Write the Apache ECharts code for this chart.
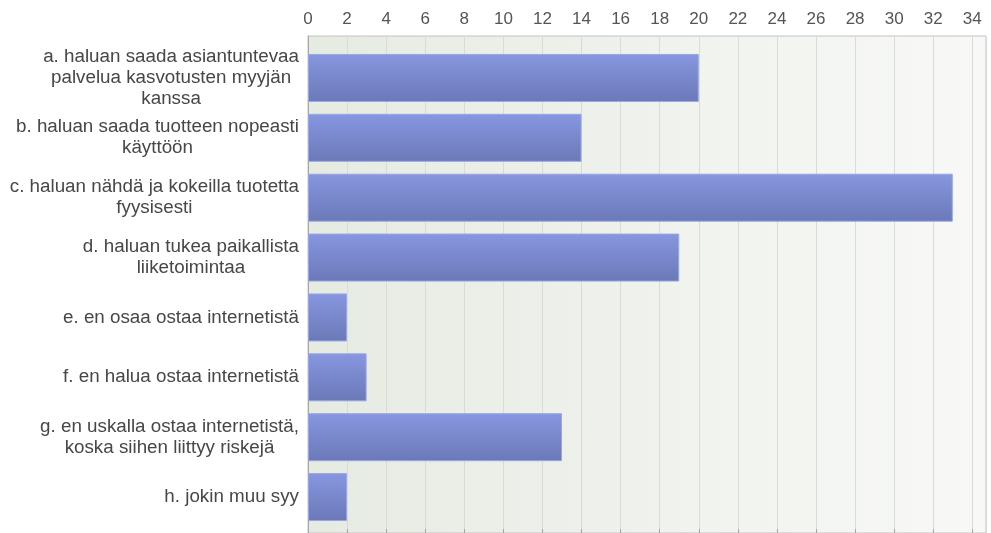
<!DOCTYPE html>
<html>
<head>
<meta charset="utf-8">
<script src="https://cdn.jsdelivr.net/npm/echarts@6/dist/echarts.min.js"></script>
<style>
  html, body { margin: 0; padding: 0; background: #ffffff; }
  #chart { width: 991px; height: 533px; }
</style>
</head>
<body>
<div id="chart"></div>
<script>
// Survey answers: reasons for buying locally instead of online
const categories = [
  'a. haluan saada asiantuntevaa\npalvelua kasvotusten myyjän\nkanssa',
  'b. haluan saada tuotteen nopeasti\nkäyttöön',
  'c. haluan nähdä ja kokeilla tuotetta\nfyysisesti',
  'd. haluan tukea paikallista\nliiketoimintaa',
  'e. en osaa ostaa internetistä',
  'f. en halua ostaa internetistä',
  'g. en uskalla ostaa internetistä,\nkoska siihen liittyy riskejä',
  'h. jokin muu syy'
];
const counts = [20, 14, 33, 19, 2, 3, 13, 2];
const axisMin = 0;
const axisMax = 34.7;
const axisStep = 2;

const FONT = '"Liberation Sans", Arial, Helvetica, sans-serif';
const chart = echarts.init(document.getElementById('chart'), null, { renderer: 'canvas' });

chart.setOption({
  animation: false,
  backgroundColor: '#ffffff',
  grid: [
    {
      // frame with shaded background, top scale and vertical guides
      left: 308, right: 5, top: 36, bottom: -6,
      show: true,
      borderColor: '#c2c2c2',
      borderWidth: 1,
      backgroundColor: {
        type: 'linear', x: 0, y: 0, x2: 1, y2: 0,
        colorStops: [
          { offset: 0, color: '#e6ebe2' },
          { offset: 1, color: '#f8f9f7' }
        ]
      }
    },
    {
      // bar rows
      left: 308, right: 5, top: 48, bottom: 6
    }
  ],
  xAxis: [
    {
      gridIndex: 0,
      type: 'value',
      position: 'top',
      min: axisMin,
      max: axisMax,
      interval: axisStep,
      axisLine: { show: true, lineStyle: { color: '#a3a3a3', width: 1 } },
      axisTick: { show: true, length: 4, lineStyle: { color: '#a3a3a3' } },
      axisLabel: {
        show: true,
        showMaxLabel: false,
        margin: 8,
        color: '#555555',
        fontSize: 17,
        fontFamily: FONT
      },
      splitLine: { show: true, lineStyle: { color: '#d9dcd6', width: 1 } }
    },
    {
      gridIndex: 1,
      type: 'value',
      min: axisMin,
      max: axisMax,
      interval: axisStep,
      show: false,
      axisLine: { show: false },
      axisTick: { show: false },
      axisLabel: { show: false },
      splitLine: { show: false }
    }
  ],
  yAxis: [
    {
      gridIndex: 0,
      type: 'value',
      min: 0,
      max: 1,
      axisLine: { show: true, lineStyle: { color: '#a8a8a8', width: 1 } },
      axisTick: { show: false },
      axisLabel: { show: false },
      splitLine: { show: false }
    },
    {
      gridIndex: 1,
      type: 'category',
      inverse: true,
      data: categories,
      axisLine: { show: false },
      axisTick: { show: false },
      splitLine: { show: false },
      splitArea: { show: false },
      axisLabel: {
        margin: 9,
        interval: 0,
        formatter: function (value) {
          return value.split('\n').map(function (line) { return '{c|' + line + '}'; }).join('\n');
        },
        rich: {
          c: {
            align: 'center',
            color: '#474747',
            fontSize: 18.8,
            lineHeight: 21,
            fontFamily: FONT
          }
        }
      }
    }
  ],
  series: [
    {
      type: 'bar',
      xAxisIndex: 1,
      yAxisIndex: 1,
      data: counts,
      barWidth: 48,
      itemStyle: {
        color: {
          type: 'linear', x: 0, y: 0, x2: 0, y2: 1,
          colorStops: [
            { offset: 0, color: '#8797e0' },
            { offset: 1, color: '#6b79b8' }
          ]
        },
        borderColor: '#9aa6e2',
        borderWidth: 1
      }
    }
  ]
});
</script>
</body>
</html>
